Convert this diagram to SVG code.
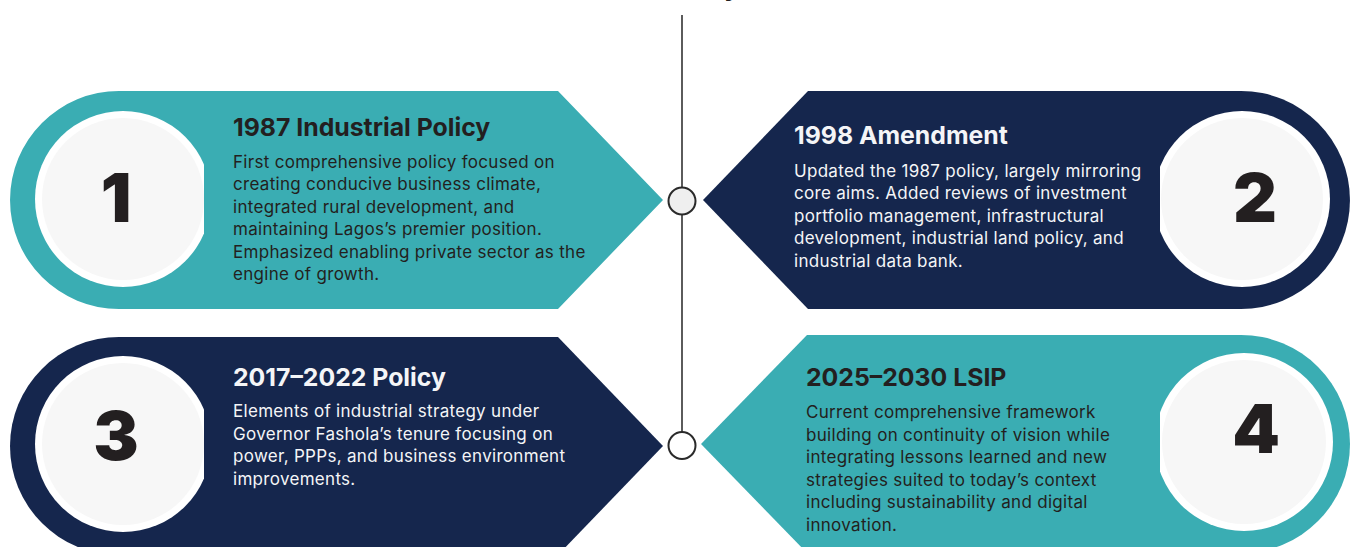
<svg xmlns="http://www.w3.org/2000/svg" width="1352" height="547" viewBox="0 0 1352 547">
  <style>
    .teal { fill: #3AADB3; }
    .navy { fill: #15264D; }
    .ring { fill: #FFFFFF; }
    .disc { fill: #F7F7F7; }
    .num { font-family: Inter, "Liberation Sans", sans-serif; font-weight: 900; font-size: 68px; fill: #231F20; text-anchor: middle; }
    .title { font-family: Inter, "Liberation Sans", sans-serif; font-weight: 700; font-size: 24.8px; }
    .body { font-family: Inter, "Liberation Sans", sans-serif; font-weight: 400; font-size: 17px; letter-spacing: 0.3px; }
    .dark { fill: #231F20; }
    .light { fill: #F4F5F7; }
    .spine { stroke: #333333; stroke-width: 1.6; fill: none; }
    .dot { stroke: #2A2A2A; stroke-width: 2; }
  </style>
  <defs>
    <clipPath id="clipL"><rect x="0" y="0" width="204" height="547"/></clipPath>
    <clipPath id="clipR"><rect x="1160" y="0" width="192" height="547"/></clipPath>
  </defs>
  <rect width="1352" height="547" fill="#FFFFFF"/>

  <text x="732" y="-4" class="title dark" font-size="34" text-anchor="middle">y</text>

  <g id="connectors">
    <line class="spine" x1="682" y1="15" x2="682" y2="432"/>
  </g>

  <g id="node1">
    <path class="teal" d="M119,91 H558 L663,200 L558,309 H119 A109,109 0 0 1 119,91 Z"/>
    <g clip-path="url(#clipL)">
      <circle class="ring" cx="123" cy="199" r="88"/>
      <circle class="disc" cx="123" cy="199" r="81"/>
    </g>
    <text class="num" x="116" y="222">1</text>
    <text class="title dark" x="233" y="136">1987 Industrial Policy</text>
    <text class="body dark">
      <tspan x="233" y="167.5">First comprehensive policy focused on</tspan>
      <tspan x="233" y="190">creating conducive business climate,</tspan>
      <tspan x="233" y="212.5">integrated rural development, and</tspan>
      <tspan x="233" y="235">maintaining Lagos’s premier position.</tspan>
      <tspan x="233" y="257.5">Emphasized enabling private sector as the</tspan>
      <tspan x="233" y="280">engine of growth.</tspan>
    </text>
  </g>

  <g id="node2">
    <path class="navy" d="M808,91 H1241 A109,109 0 0 1 1241,309 H808 L703,200 Z"/>
    <g clip-path="url(#clipR)">
      <circle class="ring" cx="1242" cy="199" r="88"/>
      <circle class="disc" cx="1242" cy="199" r="81"/>
    </g>
    <text class="num" x="1255" y="222">2</text>
    <text class="title light" x="794" y="144">1998 Amendment</text>
    <text class="body light">
      <tspan x="794" y="176.5">Updated the 1987 policy, largely mirroring</tspan>
      <tspan x="794" y="199">core aims. Added reviews of investment</tspan>
      <tspan x="794" y="221.5">portfolio management, infrastructural</tspan>
      <tspan x="794" y="244">development, industrial land policy, and</tspan>
      <tspan x="794" y="266.5">industrial data bank.</tspan>
    </text>
  </g>

  <g id="node3">
    <path class="navy" d="M119,337 H558 L663,446 L558,555 H119 A109,109 0 0 1 119,337 Z"/>
    <g clip-path="url(#clipL)">
      <circle class="ring" cx="123" cy="444" r="88"/>
      <circle class="disc" cx="123" cy="444" r="81"/>
    </g>
    <text class="num" x="116" y="460">3</text>
    <text class="title light" x="233" y="386">2017–2022 Policy</text>
    <text class="body light">
      <tspan x="233" y="417">Elements of industrial strategy under</tspan>
      <tspan x="233" y="439.5">Governor Fashola’s tenure focusing on</tspan>
      <tspan x="233" y="462">power, PPPs, and business environment</tspan>
      <tspan x="233" y="484.5">improvements.</tspan>
    </text>
  </g>

  <g id="node4">
    <path class="teal" d="M807,335 H1241 A109,109 0 0 1 1241,553 H807 L701,444 Z"/>
    <g clip-path="url(#clipR)">
      <circle class="ring" cx="1244" cy="442" r="89"/>
      <circle class="disc" cx="1244" cy="442" r="82"/>
    </g>
    <text class="num" x="1256" y="453">4</text>
    <text class="title dark" x="806" y="386">2025–2030 LSIP</text>
    <text class="body dark">
      <tspan x="806" y="418">Current comprehensive framework</tspan>
      <tspan x="806" y="440.5">building on continuity of vision while</tspan>
      <tspan x="806" y="463">integrating lessons learned and new</tspan>
      <tspan x="806" y="485.5">strategies suited to today’s context</tspan>
      <tspan x="806" y="508">including sustainability and digital</tspan>
      <tspan x="806" y="530.5">innovation.</tspan>
    </text>
  </g>

  <g id="timeline-dots">
    <circle class="dot" cx="682" cy="201" r="13.5" fill="#EFEFEF"/>
    <circle class="dot" cx="682" cy="445.5" r="13.5" fill="#FFFFFF"/>
  </g>
</svg>
